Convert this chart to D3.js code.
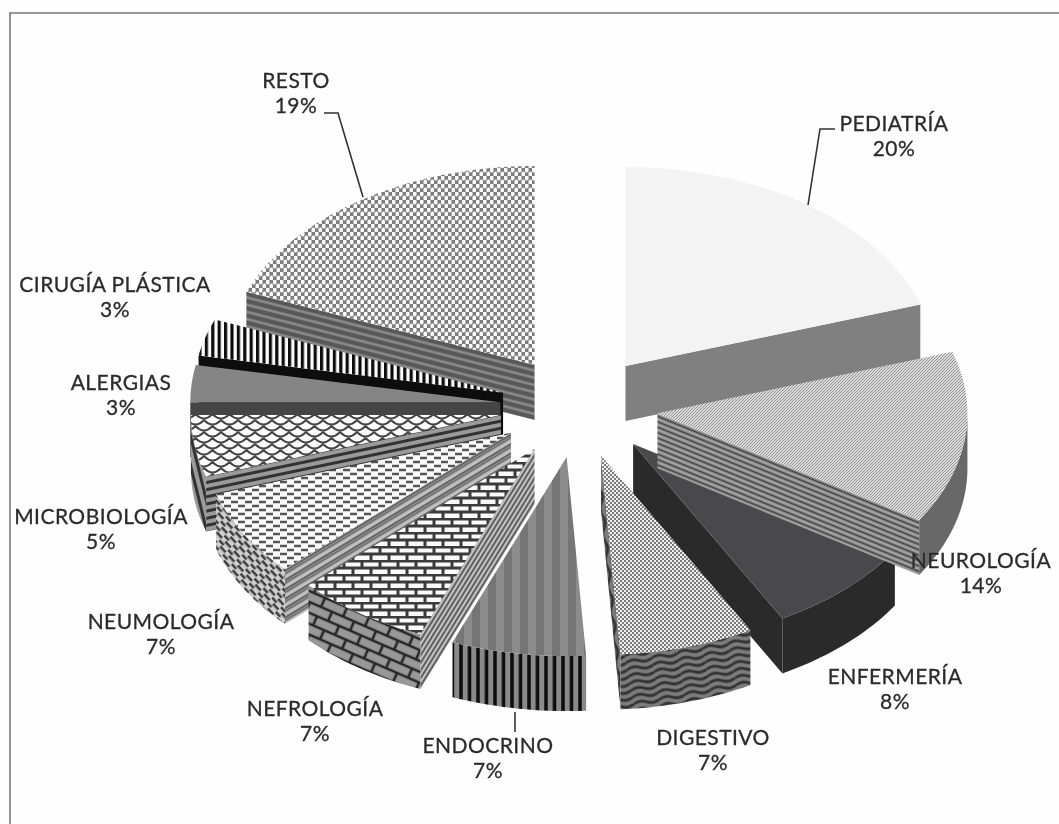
<!DOCTYPE html>
<html><head><meta charset="utf-8">
<script src="https://cdnjs.cloudflare.com/ajax/libs/d3/7.8.5/d3.min.js"></script>
<style>html,body{margin:0;padding:0;background:#fefefe}svg{display:block}</style>
</head><body><div id="chart"></div>
<script>
// ---- data ----
const categories = ["PEDIATRÍA","NEUROLOGÍA","ENFERMERÍA","DIGESTIVO","ENDOCRINO","NEFROLOGÍA","NEUMOLOGÍA","MICROBIOLOGÍA","ALERGIAS","CIRUGÍA PLÁSTICA","RESTO"];
const values = [20,14,8,7,7,7,7,5,3,3,19];

// ---- layout / style (separate from the data) ----
const W = 1059, H = 824;
const centre = {x:579, y:407}, radii = {x:310, y:199}, depth = 55, explode = 0.255;
const paintOrder = [10,9,8,7,6,5,0,2,3,4,1];
const labelAnchors = [[894,131],[981,568],[895,684],[713,745],[488,753],[315,716],[161,629],[101,524],[121,390],[115,292],[296,88]];
const labelGap = 25;
const leaders = [[[835,129],[820,129],[808,205]],[[324,113],[338,113],[363,197]],[[515,712],[515,732]]];

const topFill    = ["#f3f3f3","hatch","#4a4a4c","dots","endoTop","brickTop","dashTop","scaleTop","#858585","barTop","lattice"];
const radialFill = ["#808080","lines","#2c2c2c","waves","endoWall","fineLines","bandLines","darkLines","#454545","#0c0c0c","restoWall"];
const outerFill  = ["#808080","#686868","#2c2c2c","waves","endoWall","brickWall","dashWall","darkLines","#454545","#0c0c0c","restoWall"];

const patternKinds = {
  hatch:    {w:3,h:3,bg:"#dcdcdc",d:"M-1,1L1,-1M0,3L3,0M2,4L4,2",stroke:"#888",sw:0.9},
  lines:    {w:5,h:5,bg:"#a0a0a0",d:"M0,2.5H5",stroke:"#3c3c3c",sw:1.7},
  dots:     {w:4,h:4,bg:"#efefef",d:"M0,1H2M2,3H4",stroke:"#7c7c7c",sw:2},
  waves:    {w:26,h:7,bg:"#7c7c7c",d:"M0,3.5Q6.5,0 13,3.5T26,3.5",stroke:"#333",sw:2.8},
  endoTop:  {w:16,h:4,bg:"#757577",d:"M4,0V4",stroke:"#8c8c8c",sw:8},
  endoWall: {w:8.5,h:4,bg:"#8a8a8a",d:"M2,0V4",stroke:"#111",sw:3.6,fixed:true},
  brickTop: {w:18,h:14,bg:"#fafafa",d:"M0,1H18M0,8H18M2,1V8M11,8V15M11,-6V1",stroke:"#3a3a3a",sw:3},
  fineLines:{w:4,h:4,bg:"#c4c4c4",d:"M0,2H4",stroke:"#555",sw:1.8},
  brickWall:{w:24,h:20,bg:"#989898",d:"M0,2H24M0,12H24M3,2V12M15,12V22M15,-8V2",stroke:"#252525",sw:2.6},
  dashTop:  {w:14,h:8,bg:"#fbfbfb",d:"M0,2H7M7,6H14",stroke:"#555",sw:2.4},
  dashWall: {w:13,h:7,bg:"#cfcfcf",d:"M0,1.7H8M6.5,5.2H14.5",stroke:"#3e3e3e",sw:2.4},
  bandLines:{w:8,h:8,bg:"#c0c0c0",d:"M0,1.5H8M0,4H8",stroke:"#666",sw:1.8},
  scaleTop: {w:17,h:12,bg:"#fdfdfd",d:"M0,0Q8.5,9 17,0M-8.5,6Q0,15 8.5,6M8.5,6Q17,15 25.5,6M0,12Q8.5,21 17,12M-8.5,-6Q0,3 8.5,-6M8.5,-6Q17,3 25.5,-6",stroke:"#444",sw:2},
  darkLines:{w:7,h:7,bg:"#9a9a9a",d:"M0,3.5H7",stroke:"#333",sw:3},
  barTop:   {w:6.4,h:4,bg:"#fcfcfc",d:"M1.6,0V4",stroke:"#111",sw:3.2},
  lattice:  {w:7,h:8,bg:"#7c7c7c",d:"M-0.15,2a1.9,2.6 0 1,0 3.8,0a1.9,2.6 0 1,0 -3.8,0M3.35,6a1.9,2.6 0 1,0 3.8,0a1.9,2.6 0 1,0 -3.8,0",fill:"#fbfbfb",stroke:"none",sw:0},
  restoWall:{w:7,h:7,bg:"#595959",d:"M0,3.5H7",stroke:"#8e8e8e",sw:2.4}
};

const svg = d3.select("#chart").append("svg").attr("width",W).attr("height",H);
const defs = svg.append("defs");
defs.append("filter").attr("id","soft").attr("x",0).attr("y",0).attr("width",1).attr("height",1)
  .attr("filterUnits","objectBoundingBox")
  .append("feGaussianBlur").attr("stdDeviation",0.45);

let patternCount = 0;
function paint(kind, angle){
  const k = patternKinds[kind];
  if(!k) return kind;
  const id = "p"+(patternCount++);
  const p = defs.append("pattern").attr("id",id).attr("patternUnits","userSpaceOnUse")
    .attr("width",k.w).attr("height",k.h);
  if(angle && !k.fixed) p.attr("patternTransform","rotate("+angle+")");
  p.append("rect").attr("width",k.w).attr("height",k.h).attr("fill",k.bg);
  p.append("path").attr("d",k.d).attr("fill",k.fill||"none").attr("stroke",k.stroke).attr("stroke-width",k.sw);
  return "url(#"+id+")";
}

const sx = d3.scaleLinear().domain([-1,1]).range([centre.x-radii.x, centre.x+radii.x]);
const sy = d3.scaleLinear().domain([-1,1]).range([centre.y-radii.y, centre.y+radii.y]);
const arcs = d3.pie().sort(null).value(d=>d)(values);
const line = d3.line();
const slope = (a,b)=>Math.atan2(b[1]-a[1],b[0]-a[0])*180/Math.PI;

const root = svg.append("g").attr("filter","url(#soft)");
root.append("rect").attr("width",W).attr("height",H).attr("fill","#fefefe");
root.append("path").attr("d",line([[10,H],[10,13],[W,13]])).attr("fill","none").attr("stroke","#777").attr("stroke-width",1.6);

const pies = root.append("g");
paintOrder.forEach(i=>{
  const s = arcs[i], mid = (s.startAngle+s.endAngle)/2;
  const ox = explode*Math.sin(mid), oy = -explode*Math.cos(mid);
  const at = (a,r,drop=0)=>[sx(ox+r*Math.sin(a)), sy(oy-r*Math.cos(a))+drop];
  const rim = (a0,a1,drop=0)=>{
    const n = Math.max(2,Math.ceil((a1-a0)*40));
    return d3.range(n+1).map(j=>at(a0+(a1-a0)*j/n,1,drop));
  };
  const apex = at(0,0), g = pies.append("g").attr("class","slice").datum(categories[i]);
  const wall = (a,kind)=>{
    const p = at(a,1);
    g.append("path").attr("d",line([apex,p,at(a,1,depth),at(a,0,depth)])+"Z")
      .attr("fill",paint(kind,slope(apex,p)));
  };
  if(Math.sin(s.startAngle)<-1e-6) wall(s.startAngle,radialFill[i]);
  if(Math.sin(s.endAngle)>1e-6) wall(s.endAngle,radialFill[i]);
  const a0 = Math.max(s.startAngle,Math.PI/2), a1 = Math.min(s.endAngle,1.5*Math.PI);
  if(a1>a0){
    const upper = rim(a0,a1), lower = rim(a0,a1,depth).reverse();
    g.append("path").attr("d",line(upper.concat(lower))+"Z")
      .attr("fill",paint(outerFill[i],slope(upper[0],upper[upper.length-1])));
  }
  g.append("path").attr("d",line([apex].concat(rim(s.startAngle,s.endAngle)))+"Z")
    .attr("fill",paint(topFill[i],0));
});

root.append("g").selectAll("path").data(leaders).join("path")
  .attr("d",d=>line(d)).attr("fill","none").attr("stroke","#333").attr("stroke-width",1.6);

const labels = root.append("g").attr("font-family","Lato,sans-serif").attr("font-size",21)
  .attr("letter-spacing",0.45).attr("fill","#2c2c2c").attr("stroke","#2c2c2c").attr("stroke-width",0.3).attr("text-anchor","middle");
categories.forEach((c,i)=>{
  const [x,y] = labelAnchors[i];
  const t = labels.append("text").attr("x",x).attr("y",y);
  t.append("tspan").attr("x",x).text(c);
  t.append("tspan").attr("x",x).attr("dy",labelGap).text(values[i]+"%");
});
</script></body></html>
